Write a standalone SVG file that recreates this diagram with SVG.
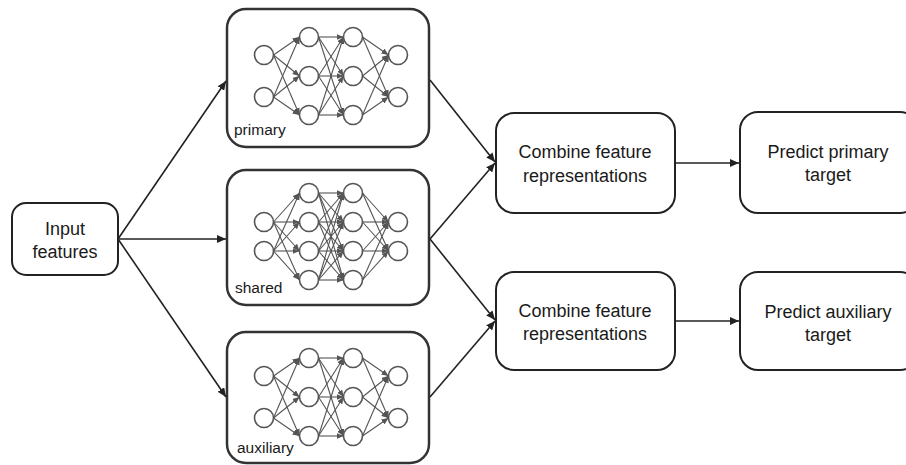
<svg xmlns="http://www.w3.org/2000/svg" width="906" height="465" viewBox="0 0 906 465">
<style>
.box{fill:#fff;stroke:#222;stroke-width:2}
.nbox{fill:#fff;stroke:#333;stroke-width:2.5}
.t{font-family:"Liberation Sans",Arial,sans-serif;font-size:18px;fill:#1a1a1a;text-anchor:middle}
.lbl{font-family:"Liberation Sans",Arial,sans-serif;font-size:15.5px;fill:#1a1a1a}
.nl line{stroke:#555;stroke-width:1.1}
.nc circle{fill:#fff;stroke:#555;stroke-width:1.6}
.conn line{stroke:#222;stroke-width:1.6}
</style>
<defs>
<marker id="ah" markerUnits="userSpaceOnUse" markerWidth="8" markerHeight="6" refX="7" refY="3" orient="auto">
<path d="M0,0 L7,3 L0,6 z" fill="#555"/>
</marker>
<marker id="arr" markerUnits="userSpaceOnUse" markerWidth="10" markerHeight="8" refX="9" refY="4" orient="auto">
<path d="M0,0 L9,4 L0,8 z" fill="#222"/>
</marker>
<g id="net232">
<g class="nl" marker-end="url(#ah)">
<line x1="273.5" y1="-21" x2="299.5" y2="-39"/>
<line x1="273.5" y1="-21" x2="299.5" y2="0"/>
<line x1="273.5" y1="-21" x2="299.5" y2="39"/>
<line x1="273.5" y1="21" x2="299.5" y2="-39"/>
<line x1="273.5" y1="21" x2="299.5" y2="0"/>
<line x1="273.5" y1="21" x2="299.5" y2="39"/>
<line x1="318.5" y1="-39" x2="343.5" y2="-39"/>
<line x1="318.5" y1="-39" x2="343.5" y2="0"/>
<line x1="318.5" y1="-39" x2="343.5" y2="39"/>
<line x1="318.5" y1="0" x2="343.5" y2="-39"/>
<line x1="318.5" y1="0" x2="343.5" y2="0"/>
<line x1="318.5" y1="0" x2="343.5" y2="39"/>
<line x1="318.5" y1="39" x2="343.5" y2="-39"/>
<line x1="318.5" y1="39" x2="343.5" y2="0"/>
<line x1="318.5" y1="39" x2="343.5" y2="39"/>
<line x1="362.5" y1="-39" x2="388.5" y2="-21"/>
<line x1="362.5" y1="-39" x2="388.5" y2="21"/>
<line x1="362.5" y1="0" x2="388.5" y2="-21"/>
<line x1="362.5" y1="0" x2="388.5" y2="21"/>
<line x1="362.5" y1="39" x2="388.5" y2="-21"/>
<line x1="362.5" y1="39" x2="388.5" y2="21"/>
</g>
<g class="nc">
<circle cx="264" cy="-21" r="9.5"/><circle cx="264" cy="21" r="9.5"/>
<circle cx="309" cy="-39" r="9.5"/><circle cx="309" cy="0" r="9.5"/><circle cx="309" cy="39" r="9.5"/>
<circle cx="353" cy="-39" r="9.5"/><circle cx="353" cy="0" r="9.5"/><circle cx="353" cy="39" r="9.5"/>
<circle cx="398" cy="-21" r="9.5"/><circle cx="398" cy="21" r="9.5"/>
</g>
</g>
<g id="net242">
<g class="nl" marker-end="url(#ah)">
<line x1="273.5" y1="-14.5" x2="299.5" y2="-43.5"/>
<line x1="273.5" y1="-14.5" x2="299.5" y2="-14.5"/>
<line x1="273.5" y1="-14.5" x2="299.5" y2="14.5"/>
<line x1="273.5" y1="-14.5" x2="299.5" y2="43.5"/>
<line x1="273.5" y1="14.5" x2="299.5" y2="-43.5"/>
<line x1="273.5" y1="14.5" x2="299.5" y2="-14.5"/>
<line x1="273.5" y1="14.5" x2="299.5" y2="14.5"/>
<line x1="273.5" y1="14.5" x2="299.5" y2="43.5"/>
<line x1="318.5" y1="-43.5" x2="343.5" y2="-43.5"/>
<line x1="318.5" y1="-43.5" x2="343.5" y2="-14.5"/>
<line x1="318.5" y1="-43.5" x2="343.5" y2="14.5"/>
<line x1="318.5" y1="-43.5" x2="343.5" y2="43.5"/>
<line x1="318.5" y1="-14.5" x2="343.5" y2="-43.5"/>
<line x1="318.5" y1="-14.5" x2="343.5" y2="-14.5"/>
<line x1="318.5" y1="-14.5" x2="343.5" y2="14.5"/>
<line x1="318.5" y1="-14.5" x2="343.5" y2="43.5"/>
<line x1="318.5" y1="14.5" x2="343.5" y2="-43.5"/>
<line x1="318.5" y1="14.5" x2="343.5" y2="-14.5"/>
<line x1="318.5" y1="14.5" x2="343.5" y2="14.5"/>
<line x1="318.5" y1="14.5" x2="343.5" y2="43.5"/>
<line x1="318.5" y1="43.5" x2="343.5" y2="-43.5"/>
<line x1="318.5" y1="43.5" x2="343.5" y2="-14.5"/>
<line x1="318.5" y1="43.5" x2="343.5" y2="14.5"/>
<line x1="318.5" y1="43.5" x2="343.5" y2="43.5"/>
<line x1="362.5" y1="-43.5" x2="388.5" y2="-14.5"/>
<line x1="362.5" y1="-43.5" x2="388.5" y2="14.5"/>
<line x1="362.5" y1="-14.5" x2="388.5" y2="-14.5"/>
<line x1="362.5" y1="-14.5" x2="388.5" y2="14.5"/>
<line x1="362.5" y1="14.5" x2="388.5" y2="-14.5"/>
<line x1="362.5" y1="14.5" x2="388.5" y2="14.5"/>
<line x1="362.5" y1="43.5" x2="388.5" y2="-14.5"/>
<line x1="362.5" y1="43.5" x2="388.5" y2="14.5"/>
</g>
<g class="nc">
<circle cx="264" cy="-14.5" r="9.5"/><circle cx="264" cy="14.5" r="9.5"/>
<circle cx="309" cy="-43.5" r="9.5"/><circle cx="309" cy="-14.5" r="9.5"/><circle cx="309" cy="14.5" r="9.5"/><circle cx="309" cy="43.5" r="9.5"/>
<circle cx="353" cy="-43.5" r="9.5"/><circle cx="353" cy="-14.5" r="9.5"/><circle cx="353" cy="14.5" r="9.5"/><circle cx="353" cy="43.5" r="9.5"/>
<circle cx="398" cy="-14.5" r="9.5"/><circle cx="398" cy="14.5" r="9.5"/>
</g>
</g>
</defs>
<rect width="906" height="465" fill="#fff"/>

<g id="input">
<rect class="box" x="12" y="203" width="106" height="72" rx="14"/>
<text class="t" x="65" y="235">Input</text>
<text class="t" x="65" y="258">features</text>
</g>

<g id="primary">
<rect class="nbox" x="227" y="9" width="202" height="138" rx="19"/>
<use href="#net232" transform="translate(0,76)"/>
<text class="lbl" x="234" y="135">primary</text>
</g>

<g id="shared">
<rect class="nbox" x="227" y="170" width="202" height="135" rx="19"/>
<use href="#net242" transform="translate(0,236.5)"/>
<text class="lbl" x="235" y="293">shared</text>
</g>

<g id="auxiliary">
<rect class="nbox" x="227" y="332" width="202" height="131" rx="19"/>
<use href="#net232" transform="translate(0,397)"/>
<text class="lbl" x="237" y="453">auxiliary</text>
</g>

<g id="combine1">
<rect class="box" x="496" y="113" width="179" height="100" rx="18"/>
<text class="t" x="585" y="158">Combine feature</text>
<text class="t" x="585" y="182">representations</text>
</g>

<g id="combine2">
<rect class="box" x="496" y="272" width="179" height="98" rx="18"/>
<text class="t" x="585" y="317">Combine feature</text>
<text class="t" x="585" y="340">representations</text>
</g>

<g id="predict-primary">
<rect class="box" x="740" y="112" width="178" height="101" rx="18"/>
<text class="t" x="828" y="158">Predict primary</text>
<text class="t" x="828" y="181">target</text>
</g>

<g id="predict-auxiliary">
<rect class="box" x="740" y="272" width="178" height="98" rx="18"/>
<text class="t" x="828" y="318">Predict auxiliary</text>
<text class="t" x="828" y="341">target</text>
</g>

<g id="connectors" class="conn" marker-end="url(#arr)">
<line x1="118" y1="239" x2="226" y2="81"/>
<line x1="118" y1="239" x2="226" y2="239"/>
<line x1="118" y1="239" x2="226" y2="397"/>
<line x1="430" y1="80" x2="495" y2="162"/>
<line x1="430" y1="239" x2="495" y2="163"/>
<line x1="430" y1="239" x2="495" y2="320"/>
<line x1="430" y1="397" x2="495" y2="321"/>
<line x1="675" y1="163" x2="739" y2="163"/>
<line x1="675" y1="321" x2="739" y2="321"/>
</g>
</svg>
